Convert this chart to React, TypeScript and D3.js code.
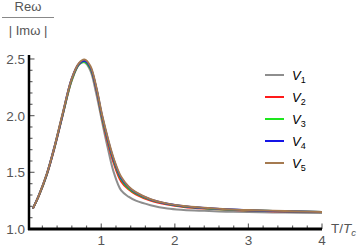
import React, { useEffect, useRef } from 'react';
import * as d3 from 'd3';

// T/Tc sample points
const temps = [0.07, 0.15, 0.26, 0.37, 0.47, 0.6, 0.7, 0.77, 0.85, 0.93, 1.01, 1.09, 1.17, 1.27, 1.37, 1.47, 1.67, 1.9, 2.12, 2.4, 2.7, 3.0, 3.5, 4.0];

const v1 = [1.18, 1.29, 1.48, 1.73, 1.99, 2.31, 2.45, 2.47, 2.40, 2.20, 1.95, 1.71, 1.50, 1.34, 1.285, 1.25, 1.21, 1.18, 1.168, 1.16, 1.153, 1.149, 1.145, 1.142];
const v2 = [1.18, 1.29, 1.48, 1.73, 1.99, 2.32, 2.46, 2.48, 2.42, 2.24, 1.98, 1.76, 1.58, 1.42, 1.35, 1.305, 1.25, 1.215, 1.195, 1.18, 1.17, 1.163, 1.155, 1.149];
const v3 = [1.18, 1.292, 1.482, 1.735, 1.995, 2.32, 2.455, 2.475, 2.42, 2.245, 1.99, 1.78, 1.60, 1.44, 1.36, 1.315, 1.257, 1.22, 1.198, 1.183, 1.172, 1.165, 1.156, 1.15];
const v4 = [1.18, 1.295, 1.485, 1.74, 2.00, 2.33, 2.46, 2.485, 2.43, 2.25, 2.00, 1.79, 1.61, 1.45, 1.37, 1.32, 1.26, 1.222, 1.20, 1.185, 1.174, 1.166, 1.157, 1.15];
const v5 = [1.18, 1.295, 1.487, 1.742, 2.005, 2.33, 2.465, 2.495, 2.44, 2.26, 2.01, 1.80, 1.62, 1.46, 1.375, 1.325, 1.263, 1.224, 1.202, 1.187, 1.175, 1.167, 1.158, 1.151];

const seriesNames = ['1', '2', '3', '4', '5'];
const seriesColors = ['#8e8e8e', '#ff1a1a', '#1ee61e', '#1414e6', '#a57a50'];
const seriesValues = [v1, v2, v3, v4, v5];

const xTicks = [1, 2, 3, 4];
const yTicks = [1.0, 1.5, 2.0, 2.5];

const App = () => {
    const ref = useRef<SVGSVGElement>(null);

    useEffect(() => {
        const svg = d3.select(ref.current);
        svg.selectAll('*').remove();

        const font = 'Liberation Sans, Arial, sans-serif';
        const labelGray = '#555';

        const x = d3.scaleLinear().domain([0.018, 4]).range([29, 322]);
        const y = d3.scaleLinear().domain([1.0, 2.535]).range([229, 55]);

        // minor ticks
        const xMinor = d3.range(0.2, 4.01, 0.2).filter(t => Math.abs(t - Math.round(t)) > 0.01);
        const yMinor = d3.range(1.1, 2.51, 0.1).filter(t => Math.abs(t * 2 - Math.round(t * 2)) > 0.01);

        svg.append('g')
            .attr('stroke', '#666')
            .attr('stroke-width', 1.2)
            .selectAll('line')
            .data(xMinor)
            .join('line')
            .attr('x1', d => x(d)).attr('x2', d => x(d))
            .attr('y1', y(1)).attr('y2', y(1) - 3.5);

        svg.append('g')
            .attr('stroke', '#666')
            .attr('stroke-width', 1.2)
            .selectAll('line')
            .data(xTicks)
            .join('line')
            .attr('x1', d => x(d)).attr('x2', d => x(d))
            .attr('y1', y(1)).attr('y2', y(1) - 5.5);

        svg.append('g')
            .attr('stroke', '#666')
            .attr('stroke-width', 1.2)
            .selectAll('line')
            .data(yMinor)
            .join('line')
            .attr('x1', x.range()[0]).attr('x2', x.range()[0] + 3.5)
            .attr('y1', d => y(d)).attr('y2', d => y(d));

        svg.append('g')
            .attr('stroke', '#666')
            .attr('stroke-width', 1.2)
            .selectAll('line')
            .data(yTicks)
            .join('line')
            .attr('x1', x.range()[0]).attr('x2', x.range()[0] + 5.5)
            .attr('y1', d => y(d)).attr('y2', d => y(d));

        // curves
        const line = d3.line<number>()
            .x((d, i) => x(temps[i]))
            .y(d => y(d))
            .curve(d3.curveCatmullRom.alpha(0.5));

        svg.append('g')
            .attr('fill', 'none')
            .attr('stroke-width', 2)
            .selectAll('path')
            .data(seriesValues)
            .join('path')
            .attr('stroke', (d, i) => seriesColors[i])
            .attr('d', d => line(d));

        // axes
        svg.append('line')
            .attr('x1', x.range()[0]).attr('x2', x.range()[0])
            .attr('y1', y.range()[0] + 1).attr('y2', y.range()[1])
            .attr('stroke', '#000').attr('stroke-width', 2.5);
        svg.append('line')
            .attr('x1', x.range()[0] - 1).attr('x2', x.range()[1])
            .attr('y1', y(1)).attr('y2', y(1))
            .attr('stroke', '#000').attr('stroke-width', 3);

        // tick labels
        svg.append('g')
            .attr('fill', labelGray)
            .attr('font-family', font)
            .attr('font-size', 13.5)
            .attr('text-anchor', 'middle')
            .selectAll('text')
            .data(xTicks)
            .join('text')
            .attr('x', d => x(d))
            .attr('y', 245)
            .text(d => d);

        svg.append('g')
            .attr('fill', labelGray)
            .attr('font-family', font)
            .attr('font-size', 13.5)
            .attr('text-anchor', 'end')
            .selectAll('text')
            .data(yTicks)
            .join('text')
            .attr('x', 25)
            .attr('y', d => y(d))
            .attr('dy', '0.36em')
            .text(d => d3.format('.1f')(d));

        // axis labels
        const xl = svg.append('text')
            .attr('x', 331).attr('y', 233)
            .attr('fill', labelGray)
            .attr('font-family', font)
            .attr('font-size', 13.5);
        xl.append('tspan').text('T/');
        xl.append('tspan').attr('font-style', 'italic').text('T');
        xl.append('tspan').attr('font-style', 'italic').attr('font-size', 9.5).attr('dy', 3).text('c');

        svg.append('text')
            .attr('x', 28).attr('y', 11)
            .attr('fill', labelGray)
            .attr('font-family', font)
            .attr('font-size', 13)
            .attr('text-anchor', 'middle')
            .text('Reω');
        svg.append('line')
            .attr('x1', 2).attr('x2', 54)
            .attr('y1', 17.5).attr('y2', 17.5)
            .attr('stroke', '#888').attr('stroke-width', 1.2);
        svg.append('text')
            .attr('x', 28).attr('y', 35)
            .attr('fill', labelGray)
            .attr('font-family', font)
            .attr('font-size', 13)
            .attr('text-anchor', 'middle')
            .attr('xml:space', 'preserve')
            .text('| Imω |');

        // legend
        const legend = svg.append('g')
            .selectAll('g')
            .data(seriesNames)
            .join('g')
            .attr('transform', (d, i) => `translate(265,${75 + i * 22})`);
        legend.append('line')
            .attr('x1', 0).attr('x2', 19)
            .attr('stroke', (d, i) => seriesColors[i])
            .attr('stroke-width', 2);
        const lt = legend.append('text')
            .attr('x', 27).attr('y', 4.5)
            .attr('font-family', font)
            .attr('font-size', 13)
            .attr('fill', '#000');
        lt.append('tspan').attr('font-style', 'italic').text('V');
        lt.append('tspan').attr('font-size', 9).attr('dy', 3).text(d => d);
    }, []);

    return (
        <svg ref={ref} width={360} height={249}
            style={{ position: 'absolute', left: 0, top: 0, background: '#fff' }} />
    );
};

export default App;
